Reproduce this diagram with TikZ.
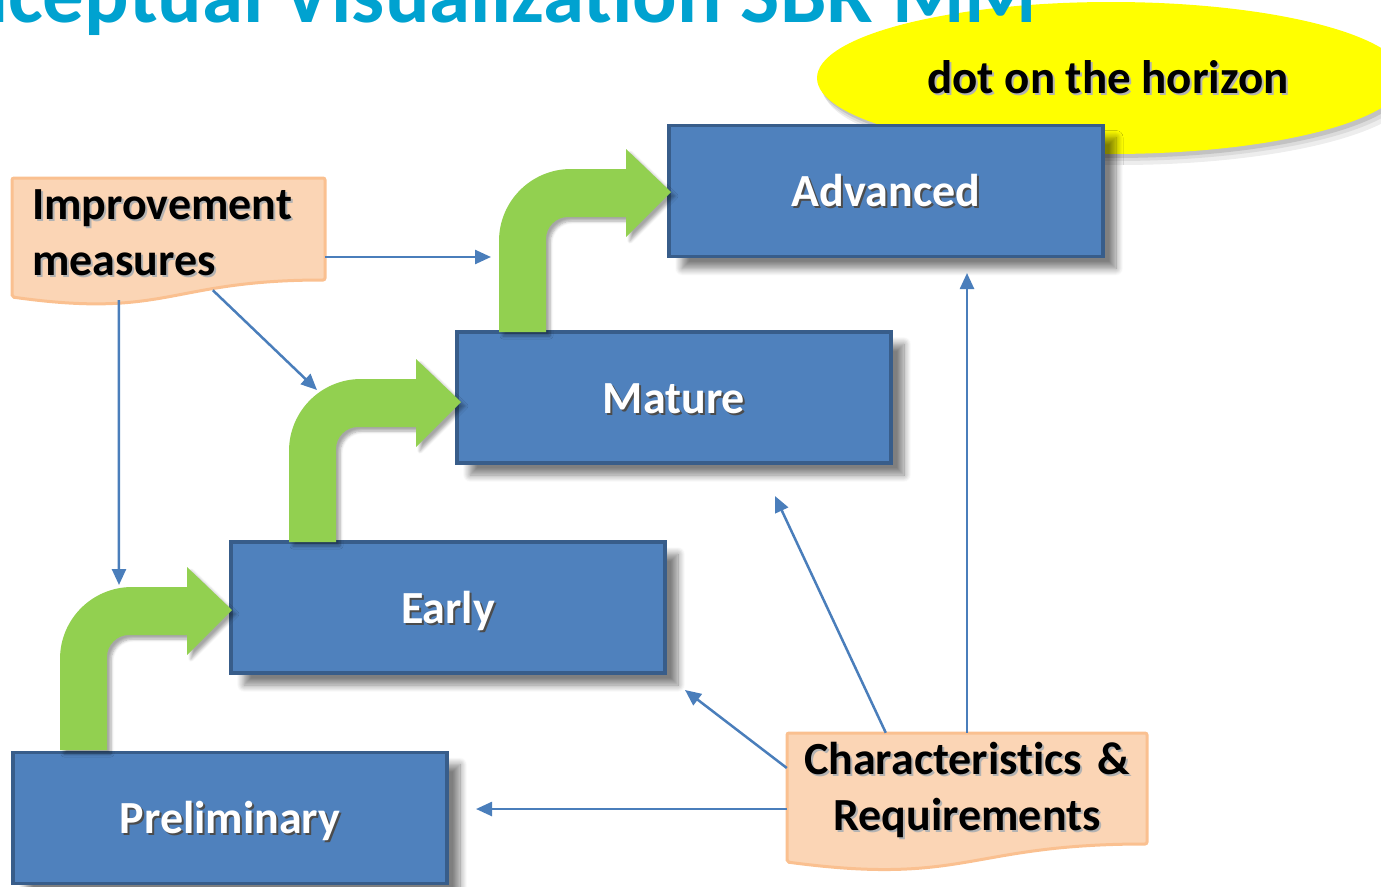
\documentclass[tikz,border=0pt]{standalone}
\usepackage{fontspec}
\setmainfont{Carlito}[Ligatures=NoCommon]
\usetikzlibrary{arrows.meta,shapes.geometric,shadows.blur}
\definecolor{boxfill}{RGB}{79,129,189}
\definecolor{boxborder}{RGB}{56,93,138}
\definecolor{arrowgreen}{RGB}{146,208,80}
\definecolor{connblue}{RGB}{74,126,187}
\definecolor{peachfill}{RGB}{251,213,181}
\definecolor{peachborder}{RGB}{250,192,144}
\definecolor{titleblue}{RGB}{0,162,208}
\definecolor{dotyellow}{RGB}{255,255,0}
\pgfdeclarelayer{background}
\pgfsetlayers{background,main}
\newcommand\shtxt[3]{\makebox[0pt][l]{\hspace*{2pt}\raisebox{-2pt}{\textcolor{#1}{#3}}}\textcolor{#2}{#3}}
\newcommand\bentarrow[2]{%
  \fill[greenarrow, shift={(#1,#2)}] (0,0) -- (0,-91)
    .. controls (0,-130.8) and (32.2,-163) .. (72,-163) -- (127,-163) -- (127,-183)
    -- (172,-140) -- (127,-95) -- (127,-115) -- (69,-115)
    .. controls (56.85,-115) and (47,-105.15) .. (47,-93) -- (47,0) -- cycle;}
\begin{document}
\begin{tikzpicture}[x=1pt,y=-1pt,
  stage/.style={draw=boxborder, fill=boxfill, line width=3.5pt,
    minimum width=434pt, minimum height=131pt, inner sep=0pt,
    text height=31pt, text depth=0pt,
    font=\fontsize{46}{54}\selectfont\bfseries,
    blur shadow={shadow xshift=13pt, shadow yshift=-12pt, shadow blur radius=7pt,
      shadow blur steps=10, shadow opacity=50}},
  peachtext/.style={font=\fontsize{46}{56}\selectfont\bfseries, inner ysep=0pt},
  peachshape/.style={fill=peachfill, draw=peachborder, line width=3pt, rounded corners=2pt},
  greenarrow/.style={fill=arrowgreen,
    blur shadow={shadow xshift=4pt, shadow yshift=-4pt, shadow blur radius=3pt,
      shadow blur steps=6, shadow opacity=35}},
  conn/.style={draw=connblue, line width=2.5pt, -{Triangle[length=16pt,width=14pt]}}]
\useasboundingbox (0,0) rectangle (1381,886);
\clip (0,0) rectangle (1381,886);
\begin{pgfonlayer}{background}
  \fill[white] (0,0) rectangle (1381,886);
\end{pgfonlayer}
% off-page dummy so that the first soft shadow is never a visible one
\path[blur shadow={shadow opacity=0}] (-200,-200) rectangle (-190,-190);

% dot on the horizon (with a soft shadow in solid greys)
\fill[black!7] (1119,88) ellipse [x radius=296pt, y radius=77pt];
\fill[black!14] (1116,85) ellipse [x radius=295pt, y radius=76pt];
\fill[black!24] (1114,82) ellipse [x radius=294pt, y radius=76pt];
\node[ellipse, fill=dotyellow, minimum width=588pt, minimum height=152pt, inner sep=0pt]
  (dot) at (1111,78) {};
\node[font=\fontsize{47}{54}\selectfont\bfseries, inner sep=0pt] (dottext) at (1108,78)
  {\shtxt{black!30}{black}{dot on the horizon}};

% title (cut off by the top edge)
\node[anchor=base east, text=titleblue, inner sep=0pt,
  font=\fontsize{83}{92}\selectfont\bfseries] (title) at (1037,22)
  {Conceptual Visualization SBR MM};

% stages
\node[stage] (adv) at (886,191) {\shtxt{black!70}{white}{Advanced}};
\node[stage] (mat) at (674,397.5) {\shtxt{black!70}{white}{Mature}};
\node[stage] (ear) at (448,607.5) {\shtxt{black!70}{white}{Early}};
\node[stage] (pre) at (230,818) {\shtxt{black!70}{white}{Preliminary}};

% green bent arrows
\bentarrow{60}{750}
\bentarrow{289}{542}
\bentarrow{499}{332}

% improvement measures
\node[peachtext, text width=273pt, align=left, inner xsep=20pt, minimum height=111pt]
  (imp) at (168.5,233.5) {\shtxt{black!30}{black}{Improvement}\\\shtxt{black!30}{black}{measures}};
\begin{pgfonlayer}{background}
  \path[peachshape] (12,178) -- (325,178) -- (325,280)
    .. controls (168.5,280) and (168.5,319) .. (12,297) -- cycle;
\end{pgfonlayer}

% characteristics & requirements
\node[peachtext, text width=350pt, align=center, inner xsep=5pt, minimum height=115pt]
  (chr) at (967,790.5) {\shtxt{black!30}{black}{Characteristics \&}\\\shtxt{black!30}{black}{Requirements}};
\begin{pgfonlayer}{background}
  \path[peachshape] (787,733) -- (1147,733) -- (1147,844)
    .. controls (967,844) and (967,886) .. (787,862) -- cycle;
\end{pgfonlayer}

% connector end points
\coordinate (advTo) at (967,273);
\coordinate (impTo) at (491,257);
\coordinate (matTo) at (317,390);
\coordinate (preTo) at (119,585);
\coordinate (matTo2) at (775,496);
\coordinate (earTo) at (685,690);
\coordinate (preTo2) at (476,809);

% connectors
\draw[conn] (imp.east |- impTo) -- (impTo);
\draw[conn] ([xshift=201pt,yshift=-1pt]imp.south west) -- (matTo);
\draw[conn] ([xshift=107pt,yshift=-11pt]imp.south west) -- (preTo);
\draw[conn] (chr.west |- preTo2) -- (preTo2);
\draw[conn] ([yshift=22.5pt]chr.west) -- (earTo);
\draw[conn] ([xshift=99pt]chr.north west) -- (matTo2);
\draw[conn] (chr.north) -- (advTo);
\end{tikzpicture}
\end{document}
